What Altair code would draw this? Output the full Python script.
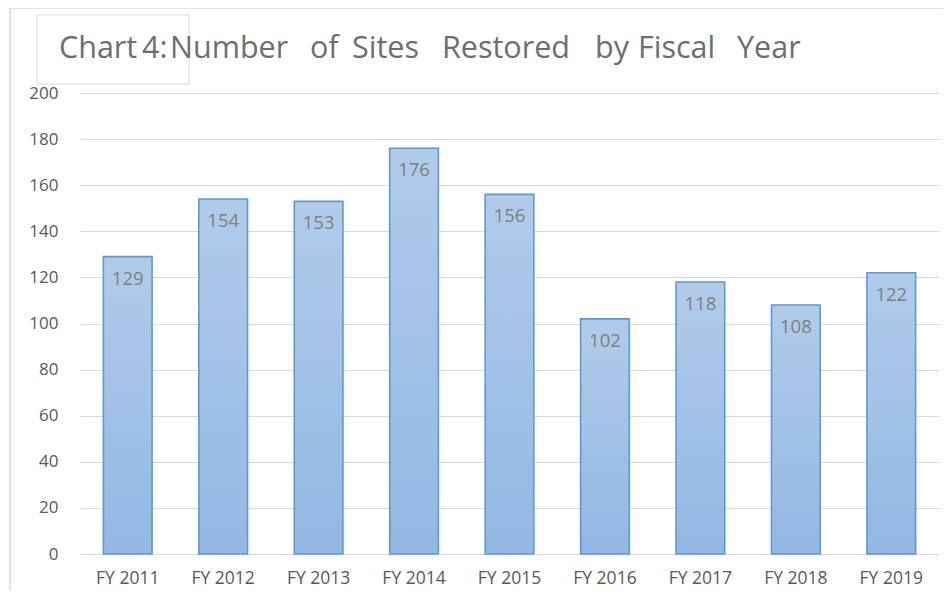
import altair as alt
import pandas as pd

years = ["FY 2011", "FY 2012", "FY 2013", "FY 2014", "FY 2015", "FY 2016", "FY 2017", "FY 2018", "FY 2019"]
sites = [129, 154, 153, 176, 156, 102, 118, 108, 122]
y_ticks = [0, 20, 40, 60, 80, 100, 120, 140, 160, 180, 200]
title_words = ["Chart", "4:", "Number", "of", "Sites", "Restored", "by", "Fiscal", "Year"]

# layout: left edge (px, relative to plot area) of each title word
title_x = [-21, 62, 90, 230, 272, 362, 515, 558, 657]

df = pd.DataFrame({"year": years, "sites": sites})
tdf = pd.DataFrame({"w": title_words, "px": title_x})

W, H = 859, 461
FONT = "Open Sans"

x = alt.X("year:N", sort=years, title=None,
          scale=alt.Scale(paddingInner=0.49, paddingOuter=0.245),
          axis=alt.Axis(labelAngle=0, labelFontSize=17.5, labelColor="#595959",
                        labelFont=FONT, ticks=False, domain=False, labelPadding=15))
y = alt.Y("sites:Q", title=None,
          scale=alt.Scale(domain=[0, 200], nice=False),
          axis=alt.Axis(values=y_ticks, labelFontSize=17, labelColor="#595959",
                        labelFont=FONT, ticks=False, domain=False, labelPadding=22,
                        gridColor="#d9d9d9", gridWidth=1))

bars = alt.Chart(df).mark_bar(
    color=alt.Gradient(gradient="linear",
                       stops=[alt.GradientStop(color="#b1cbea", offset=0),
                              alt.GradientStop(color="#92b8e3", offset=1)],
                       x1=1, x2=1, y1=0, y2=1),
    stroke="#5b9bd5", strokeWidth=1.6
).encode(x=x, y=y)

labels = alt.Chart(df).mark_text(
    baseline="top", dy=13, fontSize=18.5, color="#7f7f7f", font=FONT
).encode(x=alt.X("year:N", sort=years), y="sites:Q", text="sites:Q")

outer = alt.Chart(pd.DataFrame({"a": [0]})).mark_rect(
    fill=None, stroke="#d9d9d9", strokeWidth=1.5
).encode(x=alt.value(-70), x2=alt.value(900), y=alt.value(-85), y2=alt.value(560))

tbox = alt.Chart(pd.DataFrame({"a": [0]})).mark_rect(
    fill=None, stroke="#d9d9d9", strokeWidth=1
).encode(x=alt.value(-43), x2=alt.value(109), y=alt.value(-78), y2=alt.value(-9))

title = alt.Chart(tdf).mark_text(
    align="left", baseline="alphabetic", fontSize=30.5, color="#6e6e6e", font=FONT
).encode(x=alt.X("px:Q", scale=None), y=alt.value(-35), text="w:N")

chart = alt.layer(outer, tbox, bars, labels, title).properties(
    width=W, height=H,
    autosize=alt.AutoSizeParams(type="none"),
    padding={"left": 72, "top": 85, "right": 4, "bottom": 36}
).configure_view(stroke=None)

chart.save("out.html", embed_options={"renderer": "svg", "actions": False})
